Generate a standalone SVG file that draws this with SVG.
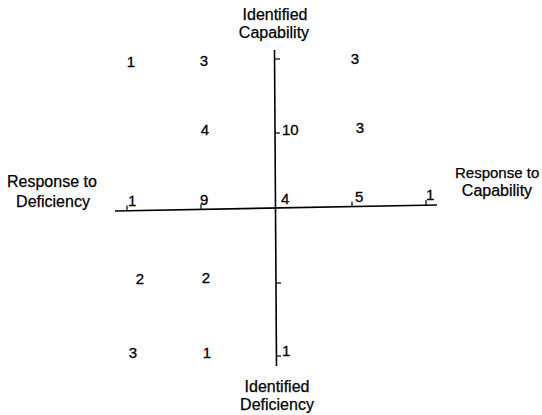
<svg xmlns="http://www.w3.org/2000/svg" width="542" height="415" viewBox="0 0 542 415">
  <style>
    .lbl { font-family: "Liberation Sans", Arial, sans-serif; font-size: 16px; fill: #000; stroke: #000; stroke-width: 0.25; }
    .num { font-family: "Liberation Sans", Arial, sans-serif; font-size: 15px; fill: #000; stroke: #000; stroke-width: 0.3; }
    .axis { stroke: #000; stroke-width: 1.6; fill: none; }
    .tick { stroke: #000; stroke-width: 1.2; fill: none; }
  </style>
  <rect width="542" height="415" fill="#fff"/>

  <!-- axes -->
  <g id="axes">
    <line class="axis" x1="274.5" y1="50" x2="276.5" y2="366"/>
    <line class="axis" x1="115" y1="211" x2="437" y2="205"/>
    <!-- ticks on vertical axis -->
    <line class="tick" x1="275" y1="59" x2="280" y2="59"/>
    <line class="tick" x1="275" y1="133" x2="280" y2="133"/>
    <line class="tick" x1="276" y1="283" x2="281" y2="283"/>
    <line class="tick" x1="276" y1="356" x2="281" y2="356"/>
    <!-- ticks on horizontal axis -->
    <line class="tick" x1="127" y1="210.5" x2="127" y2="205.5"/>
    <line class="tick" x1="201" y1="209" x2="201" y2="204"/>
    <line class="tick" x1="352" y1="206.5" x2="352" y2="201.5"/>
    <line class="tick" x1="426" y1="205" x2="426" y2="200"/>
  </g>

  <!-- axis labels -->
  <g id="label-top">
    <text class="lbl" x="275" y="20" text-anchor="middle">Identified</text>
    <text class="lbl" x="274" y="38" text-anchor="middle">Capability</text>
  </g>
  <g id="label-bottom">
    <text class="lbl" x="277" y="392" text-anchor="middle">Identified</text>
    <text class="lbl" x="277" y="410" text-anchor="middle">Deficiency</text>
  </g>
  <g id="label-left">
    <text class="lbl" x="7" y="187">Response to</text>
    <text class="lbl" x="53" y="207" text-anchor="middle">Deficiency</text>
  </g>
  <g id="label-right">
    <text class="lbl" x="455" y="178" style="font-size:15px">Response to</text>
    <text class="lbl" x="497" y="196" text-anchor="middle">Capability</text>
  </g>

  <!-- counts -->
  <g id="counts">
    <text class="num" x="131" y="67" text-anchor="middle">1</text>
    <text class="num" x="204" y="66" text-anchor="middle">3</text>
    <text class="num" x="355" y="64" text-anchor="middle">3</text>

    <text class="num" x="205" y="135" text-anchor="middle">4</text>
    <text class="num" x="282" y="135">10</text>
    <text class="num" x="360" y="133" text-anchor="middle">3</text>

    <text class="num" x="128" y="206">1</text>
    <text class="num" x="200" y="205">9</text>
    <text class="num" x="281" y="204">4</text>
    <text class="num" x="355" y="202">5</text>
    <text class="num" x="426" y="200">1</text>

    <text class="num" x="140" y="284" text-anchor="middle">2</text>
    <text class="num" x="206" y="283" text-anchor="middle">2</text>

    <text class="num" x="133" y="358" text-anchor="middle">3</text>
    <text class="num" x="207" y="358" text-anchor="middle">1</text>
    <text class="num" x="282" y="356">1</text>
  </g>
</svg>
